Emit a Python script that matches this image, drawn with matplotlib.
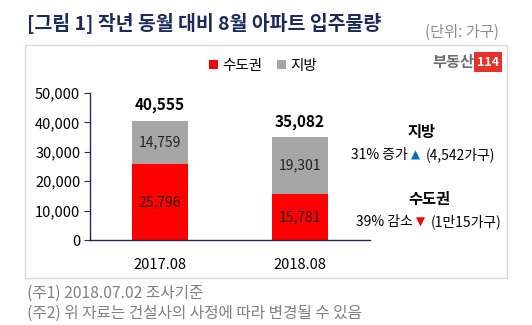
import matplotlib
matplotlib.use("Agg")
import matplotlib.pyplot as plt
from matplotlib.patches import Rectangle

plt.rcParams['font.family'] = ['Noto Sans CJK KR', 'DejaVu Sans']

categories = ["2017.08", "2018.08"]
capital = [25796, 15781]
regional = [14759, 19301]
totals = [40555, 35082]
yticks = [0, 10000, 20000, 30000, 40000, 50000]

W, H = 532, 325
fig = plt.figure(figsize=(W / 100, H / 100), dpi=100)

def fx(px):
    return px / W

def fy(py):
    return 1 - py / H

navy = "#1f2a5c"
red = "#ff0000"
gray = "#a6a6a6"
note = "#808080"

# Title and unit
fig.text(fx(27), fy(23), "[그림 1] 작년 동월 대비 8월 아파트 입주물량", color=navy,
         fontsize=14, fontweight="bold", ha="left", va="center")
fig.text(fx(499), fy(32), "(단위: 가구)", color="#8c8c8c", fontsize=11,
         ha="right", va="center")

# Frame around the chart
fig.add_artist(Rectangle((fx(25), fy(278)), fx(482), (278 - 45) / H,
                         transform=fig.transFigure, fill=False,
                         edgecolor="#d9d9d9", linewidth=1))

# Logo
fig.text(fx(474), fy(62), "부동산", color="#6e6e6e", fontsize=11,
         fontweight="bold", ha="right", va="center")
fig.text(fx(488), fy(62), "114", color="white", fontsize=9, fontweight="bold",
         ha="center", va="center",
         bbox=dict(boxstyle="square,pad=0.25", facecolor="#e8312a", edgecolor="none"))

ax = fig.add_axes([fx(90), fy(240), fx(280), (240 - 93) / H])
x = range(len(categories))
b1 = ax.bar(x, capital, width=0.4, color=red, label="수도권", zorder=2)
b2 = ax.bar(x, regional, width=0.4, bottom=capital, color=gray, label="지방", zorder=2)

for i in x:
    ax.text(i, capital[i] / 2, f"{capital[i]:,}", ha="center", va="center",
            fontsize=10, color="#222222")
    ax.text(i, capital[i] + regional[i] / 2, f"{regional[i]:,}", ha="center",
            va="center", fontsize=10, color="#222222")
    ax.text(i, totals[i] + 2500, f"{totals[i]:,}", ha="center", va="bottom",
            fontsize=11, fontweight="bold", color="black")

ax.set_xlim(-0.5, 1.5)
ax.set_ylim(0, 50000)
ax.set_yticks(yticks)
ax.set_yticklabels([f"{v:,}" for v in yticks], fontsize=10.5)
ax.set_xticks(list(x))
ax.set_xticklabels(categories, fontsize=10.5)
ax.tick_params(axis="x", length=0, pad=13)
ax.tick_params(axis="y", length=4, direction="out", color=navy, pad=3)
for s in ["top", "right"]:
    ax.spines[s].set_visible(False)
for s in ["left", "bottom"]:
    ax.spines[s].set_color(navy)
    ax.spines[s].set_linewidth(1)
ax.set_facecolor("none")

leg = fig.legend(handles=[b1, b2], loc="center", bbox_to_anchor=(fx(263), fy(66)),
                 ncol=2, frameon=False, fontsize=10.5, handlelength=0.6,
                 handleheight=0.6, handletextpad=0.3, columnspacing=1.0)

# Side annotations
fig.text(fx(408), fy(132), "지방", fontsize=11, fontweight="bold",
         ha="left", va="center")
fig.text(fx(408), fy(155), "31% 증가", fontsize=10, ha="right", va="center")
fig.text(fx(415), fy(155), "▲", fontsize=8.5, color="#0070c0", ha="center",
         va="center", family="DejaVu Sans")
fig.text(fx(426), fy(155), "(4,542가구)", fontsize=10, ha="left", va="center")

fig.text(fx(408), fy(199), "수도권", fontsize=11, fontweight="bold",
         ha="left", va="center")
fig.text(fx(413), fy(222), "39% 감소", fontsize=10, ha="right", va="center")
fig.text(fx(420), fy(222), "▼", fontsize=8.5, color=red, ha="center",
         va="center", family="DejaVu Sans")
fig.text(fx(431), fy(222), "(1만15가구)", fontsize=10, ha="left", va="center")

# Footnotes
fig.text(fx(27), fy(293), "(주1) 2018.07.02 조사기준", color=note, fontsize=11.3,
         ha="left", va="center")
fig.text(fx(27), fy(313), "(주2) 위 자료는 건설사의 사정에 따라 변경될 수 있음",
         color=note, fontsize=11.3, ha="left", va="center")

fig.savefig("out.png", dpi=100)
